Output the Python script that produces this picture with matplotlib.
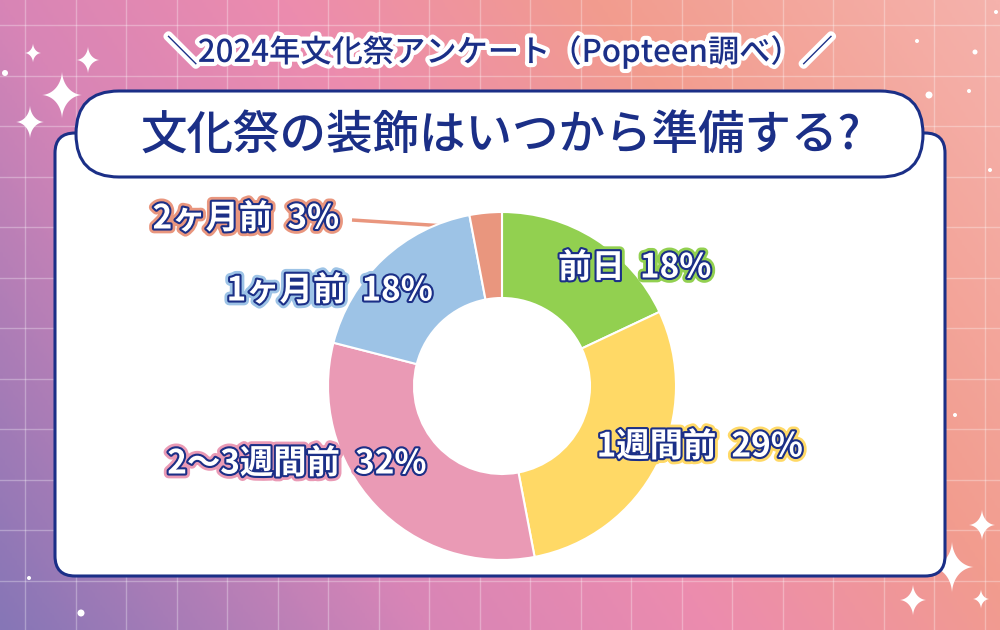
import numpy as np
import matplotlib.pyplot as plt
from matplotlib.patches import FancyBboxPatch, Polygon, Circle
from matplotlib.colors import LinearSegmentedColormap
import matplotlib.patheffects as pe

plt.rcParams['font.family'] = ['Noto Sans CJK JP', 'DejaVu Sans']

# data
labels = ['前日', '1週間前', '2〜3週間前', '1ヶ月前', '2ヶ月前']
values = [18, 29, 32, 18, 3]
colors = ['#92d050', '#ffd966', '#ea9ab5', '#9dc3e6', '#e9967e']
title = '文化祭の装飾はいつから準備する?'
subtitle = '＼2024年文化祭アンケート（Popteen調べ）／'

# layout (image pixels, y down)
W, H = 1000, 630
NAVY = '#1b2f87'
label_pos = [(635, 268), (700, 447), (297, 464), (330, 291), (246, 219)]
pie_cx, pie_cy, pie_r, pie_rin = 502, 386, 174, 88

fig = plt.figure(figsize=(10, 6.3), dpi=100)
ax = fig.add_axes([0, 0, 1, 1])
ax.set_xlim(0, W)
ax.set_ylim(H, 0)
ax.axis('off')

# background gradient
cmap = LinearSegmentedColormap.from_list('bg', [
    (0.0, '#8676b6'), (0.3, '#d885b6'), (0.5, '#ec8cae'),
    (0.72, '#f29c8e'), (1.0, '#f5b2ac')])
xx, yy = np.meshgrid(np.linspace(0, 1, 400), np.linspace(0, 1, 252))
t = 0.7 * xx + 0.3 * (1 - yy)
ax.imshow(t, cmap=cmap, extent=[0, W, H, 0], aspect='auto', zorder=0)

# grid
for gx in np.arange(25, W, 50.5):
    ax.axvline(gx, color='white', alpha=0.3, lw=1, zorder=1)
for gy in np.arange(25, H, 50.5):
    ax.axhline(gy, color='white', alpha=0.3, lw=1, zorder=1)


def sparkle(x, y, s):
    th = np.linspace(0, 2 * np.pi, 200)
    px = x + s * 0.85 * np.sign(np.cos(th)) * np.abs(np.cos(th)) ** 3.5
    py = y + s * np.sign(np.sin(th)) * np.abs(np.sin(th)) ** 3.5
    ax.add_patch(Circle((x, y), s * 0.35, color='white', alpha=0.25, lw=0, zorder=2))
    ax.add_patch(Polygon(np.column_stack([px, py]), closed=True, color='white', lw=0, zorder=2))


for sx, sy, ss in [(62, 95, 24), (30, 122, 17), (88, 60, 14), (33, 53, 10),
                   (952, 567, 26), (982, 525, 16), (913, 600, 16), (981, 599, 10)]:
    sparkle(sx, sy, ss)
for dx, dy, dr in [(5, 73, 3), (29, 578, 2), (81, 613, 3.5), (917, 41, 2), (975, 52, 2.5),
                   (996, 12, 2), (929, 95, 3.5), (969, 91, 2), (955, 415, 2), (990, 170, 2)]:
    ax.add_patch(Circle((dx, dy), dr, color='white', lw=0, zorder=2))

# white panel + title pill
ax.add_patch(FancyBboxPatch((55, 133), 890, 443, boxstyle='round,pad=0,rounding_size=20',
                            fc='white', ec=NAVY, lw=2.2, zorder=3))
ax.add_patch(FancyBboxPatch((76, 91), 847, 86, boxstyle='round,pad=0,rounding_size=43',
                            fc='white', ec=NAVY, lw=2.2, zorder=4))
ax.text(501, 136, title, ha='center', va='center', fontsize=33.5, fontweight='medium',
        color=NAVY, zorder=5)
ax.text(500, 52, subtitle, ha='center', va='center', fontsize=22.5, fontweight='medium',
        color=NAVY, zorder=5,
        path_effects=[pe.Stroke(linewidth=6, foreground='white'), pe.Normal()])

# donut
pax = fig.add_axes([(pie_cx - pie_r) / W, (H - pie_cy - pie_r) / H, 2 * pie_r / W, 2 * pie_r / H])
pax.pie(values, colors=colors, startangle=90, counterclock=False, radius=1,
        wedgeprops=dict(width=1 - pie_rin / pie_r, edgecolor='white', linewidth=1.5))
pax.set_xlim(-1, 1)
pax.set_ylim(-1, 1)
pax.set_zorder(6)
pax.patch.set_alpha(0)

# leader line for the small slice
mid = np.deg2rad(90 + values[-1] / 100 * 360 / 2)
lx = pie_cx + 158 * np.cos(mid)
ly = pie_cy - 158 * np.sin(mid)
ln, = ax.plot([352, lx], [220, ly], color=colors[-1], lw=2.5, zorder=5, solid_capstyle='butt')
ln.set_path_effects([pe.Stroke(linewidth=5, foreground='white'), pe.Normal()])

# labels
lax = fig.add_axes([0, 0, 1, 1])
lax.set_xlim(0, W)
lax.set_ylim(H, 0)
lax.axis('off')
lax.set_zorder(7)
for lab, v, c, (tx, ty) in zip(labels, values, colors, label_pos):
    lax.text(tx, ty, f'{lab}  {v}%', ha='center', va='center', fontsize=24,
             fontweight='bold', color='white',
             path_effects=[pe.Stroke(linewidth=7, foreground=c),
                           pe.Stroke(linewidth=3, foreground=NAVY), pe.Normal()])

fig.savefig('out.png', dpi=100)
